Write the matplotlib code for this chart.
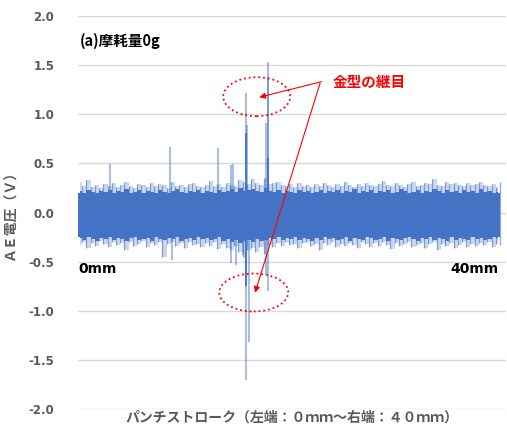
import numpy as np
import matplotlib.pyplot as plt
from matplotlib.patches import Ellipse

# AE電圧の波形（左端 0mm 〜 右端 40mm）
stroke_mm = np.arange(0.2, 40.0, 0.4)

# 上側・下側の包絡（細かいノイズの先端）
upper_env = [
    0.31, 0.27, 0.33, 0.26, 0.28, 0.25, 0.29, 0.27, 0.30, 0.26,
    0.28, 0.31, 0.27, 0.25, 0.29, 0.28, 0.26, 0.30, 0.27, 0.29,
    0.28, 0.25, 0.31, 0.27, 0.28, 0.26, 0.29, 0.30, 0.27, 0.26,
    0.28, 0.32, 0.27, 0.29, 0.26, 0.30, 0.28, 0.27, 0.33, 0.31,
    0.29, 0.34, 0.30, 0.28, 0.35, 0.29, 0.30, 0.31, 0.28, 0.27,
    0.29, 0.26, 0.30, 0.27, 0.28, 0.26, 0.29, 0.27, 0.30, 0.28,
    0.26, 0.29, 0.27, 0.31, 0.28, 0.26, 0.29, 0.27, 0.30, 0.28,
    0.27, 0.29, 0.32, 0.28, 0.27, 0.30, 0.28, 0.26, 0.29, 0.31,
    0.27, 0.28, 0.30, 0.29, 0.34, 0.28, 0.27, 0.31, 0.29, 0.30,
    0.28, 0.27, 0.30, 0.28, 0.29, 0.31, 0.28, 0.27, 0.29, 0.26,
]
lower_env = [
    -0.33, -0.30, -0.36, -0.31, -0.34, -0.29, -0.32, -0.35, -0.30, -0.33,
    -0.31, -0.38, -0.30, -0.34, -0.32, -0.29, -0.35, -0.31, -0.33, -0.30,
    -0.45, -0.32, -0.30, -0.34, -0.31, -0.36, -0.30, -0.33, -0.32, -0.35,
    -0.31, -0.34, -0.30, -0.37, -0.32, -0.36, -0.38, -0.34, -0.40, -0.45,
    -0.38, -0.36, -0.40, -0.35, -0.42, -0.33, -0.35, -0.31, -0.34, -0.30,
    -0.33, -0.32, -0.36, -0.31, -0.30, -0.34, -0.32, -0.38, -0.31, -0.33,
    -0.30, -0.35, -0.32, -0.34, -0.31, -0.33, -0.36, -0.30, -0.32, -0.35,
    -0.31, -0.34, -0.30, -0.33, -0.37, -0.31, -0.34, -0.32, -0.30, -0.35,
    -0.33, -0.31, -0.36, -0.32, -0.30, -0.38, -0.32, -0.34, -0.31, -0.36,
    -0.33, -0.30, -0.35, -0.32, -0.34, -0.31, -0.33, -0.30, -0.35, -0.32,
]
# 密な部分の縁
core_top = [
    0.22, 0.20, 0.23, 0.21, 0.20, 0.22, 0.21, 0.23, 0.20, 0.22,
    0.21, 0.24, 0.20, 0.21, 0.23, 0.20, 0.22, 0.21, 0.20, 0.23,
    0.21, 0.20, 0.22, 0.24, 0.21, 0.20, 0.22, 0.21, 0.23, 0.20,
    0.22, 0.21, 0.20, 0.23, 0.21, 0.22, 0.24, 0.21, 0.25, 0.22,
    0.23, 0.24, 0.22, 0.21, 0.25, 0.22, 0.21, 0.23, 0.20, 0.22,
    0.21, 0.20, 0.23, 0.21, 0.22, 0.20, 0.21, 0.23, 0.20, 0.22,
    0.21, 0.23, 0.20, 0.22, 0.21, 0.24, 0.20, 0.22, 0.21, 0.23,
    0.20, 0.22, 0.21, 0.23, 0.20, 0.21, 0.24, 0.22, 0.20, 0.21,
    0.23, 0.20, 0.22, 0.21, 0.24, 0.22, 0.20, 0.23, 0.21, 0.22,
    0.20, 0.23, 0.21, 0.22, 0.20, 0.24, 0.21, 0.22, 0.20, 0.21,
]
core_bottom = [
    -0.26, -0.28, -0.25, -0.27, -0.29, -0.26, -0.27, -0.25, -0.28, -0.26,
    -0.27, -0.29, -0.26, -0.25, -0.28, -0.27, -0.26, -0.29, -0.25, -0.27,
    -0.28, -0.26, -0.27, -0.25, -0.29, -0.27, -0.26, -0.28, -0.25, -0.27,
    -0.26, -0.28, -0.27, -0.25, -0.29, -0.27, -0.30, -0.28, -0.31, -0.29,
    -0.28, -0.30, -0.27, -0.29, -0.28, -0.26, -0.27, -0.25, -0.28, -0.26,
    -0.27, -0.25, -0.28, -0.26, -0.27, -0.29, -0.26, -0.28, -0.25, -0.27,
    -0.26, -0.28, -0.27, -0.25, -0.29, -0.26, -0.27, -0.28, -0.25, -0.26,
    -0.28, -0.27, -0.25, -0.29, -0.26, -0.27, -0.28, -0.26, -0.25, -0.27,
    -0.29, -0.26, -0.27, -0.25, -0.28, -0.26, -0.27, -0.29, -0.25, -0.28,
    -0.26, -0.27, -0.28, -0.25, -0.27, -0.26, -0.28, -0.27, -0.25, -0.26,
]
core_hi = 0.20
core_lo = -0.25

# 突発的なピーク
up_x = [3.0, 8.7, 13.3, 14.5, 14.7, 15.95, 16.05, 17.8, 18.0, 18.05]
up_peak = [0.49, 0.67, 0.66, 0.48, 0.49, 1.21, 0.89, 0.91, 1.53, 1.38]
down_x = [8.9, 14.5, 15.0, 15.6, 15.95, 16.18, 17.85, 18.05]
down_peak = [-0.48, -0.51, -0.53, -0.43, -1.70, -1.32, -0.62, -0.80]
dense_x = [15.95, 18.0, 15.95]
dense_val = [0.81, 0.55, -0.75]

yticks = [-2.0, -1.5, -1.0, -0.5, 0.0, 0.5, 1.0, 1.5, 2.0]

blue = '#4472C4'
gray = '#595959'
jp = ['Noto Sans CJK JP', 'DejaVu Sans']

fig = plt.figure(figsize=(5.07, 4.34), dpi=100)
ax = fig.add_axes([78 / 507, 24.7 / 434, 428 / 507, 393.6 / 434])

ax.fill_between([0, 40], core_lo, core_hi, color=blue, lw=0, zorder=3)
ax.fill_between(stroke_mm, core_bottom, core_top, step='mid', color=blue,
                lw=0, zorder=3)
ax.fill_between(stroke_mm, lower_env, upper_env, step='mid', color=blue,
                lw=0, alpha=0.28, zorder=2)
ax.vlines(stroke_mm + 0.2, 0, upper_env[1:] + upper_env[:1], color=blue,
          lw=0.9, alpha=0.6, zorder=2)
ax.vlines(stroke_mm + 0.2, lower_env[1:] + lower_env[:1], 0, color=blue,
          lw=0.9, alpha=0.6, zorder=2)
ax.vlines(up_x, 0, up_peak, color=blue, lw=1.1, alpha=0.6, zorder=2)
ax.vlines(down_x, down_peak, 0, color=blue, lw=1.1, alpha=0.6, zorder=2)
ax.vlines(dense_x, 0, dense_val, color=blue, lw=1.5, alpha=0.9, zorder=3)

ax.set_xlim(0, 428 / 10.55)
ax.set_ylim(-2, 2)
ax.set_yticks(yticks)
ax.set_yticklabels([f'{v:.1f}' for v in yticks], fontsize=8.5,
                   fontweight='bold', color=gray)
ax.set_xticks([])
ax.tick_params(axis='y', length=0, pad=17)
ax.grid(axis='y', color='#D9D9D9', lw=1)
ax.set_axisbelow(True)
for s in ax.spines.values():
    s.set_visible(False)

ax.set_ylabel('ＡＥ電圧（Ｖ）', family=jp, fontsize=10, fontweight='bold',
              color=gray, labelpad=8)
fig.text(292 / 507, 1 - 418 / 434, 'パンチストローク（左端：０ｍｍ〜右端：４０ｍｍ）',
         family=jp, fontsize=10, fontweight='bold', color=gray,
         ha='center', va='center')

ax.text(0.15, 1.74, '(a)摩耗量0g', family=jp, fontsize=10.5, fontweight='bold',
        va='center', ha='left')
ax.text(0.0, -0.575, '0mm', fontsize=10, fontweight='bold', va='center', ha='left')
ax.text(39.9, -0.575, '40mm', fontsize=10, fontweight='bold', va='center', ha='right')

# 金型の継目の注記
ax.add_patch(Ellipse((16.94, 1.177), 6.35, 0.396, fill=False, ec='red',
                     ls=':', lw=1.3, zorder=5))
ax.add_patch(Ellipse((16.66, -0.813), 6.54, 0.386, fill=False, ec='red',
                     ls=':', lw=1.3, zorder=5))
ax.text(24.1, 1.33, '金型の継目', family=jp, fontsize=10.5, fontweight='bold',
        color='red', va='center', ha='left')
arrow = dict(arrowstyle='-|>', color='red', lw=0.8, mutation_scale=9,
             shrinkA=0, shrinkB=0)
ax.annotate('', xy=(17.18, 1.171), xytext=(23.1, 1.33), arrowprops=arrow, zorder=6)
ax.annotate('', xy=(16.78, -0.815), xytext=(22.94, 1.313), arrowprops=arrow, zorder=6)

fig.savefig('out.png', dpi=100)
